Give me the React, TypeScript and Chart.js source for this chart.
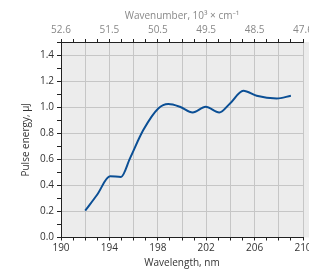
import React, { useEffect, useRef } from "react";
import { Chart, registerables } from "chart.js";

Chart.register(...registerables);

const wavelengths = [192.0, 193.0, 194.05, 194.96, 195.7, 196.8, 198.04, 198.87, 199.83, 200.88, 201.96, 203.08, 203.97, 205.07, 206.17, 207.83, 209.0];
const pulseEnergy = [0.206, 0.33, 0.47, 0.465, 0.607, 0.824, 0.99, 1.024, 1.003, 0.96, 1.003, 0.96, 1.029, 1.126, 1.087, 1.067, 1.087];
const xMin = 190;
const xMax = 210;
const yMin = 0;
const yMax = 1.5;

const FONT = "'Open Sans', 'Noto Sans', sans-serif";

export default function App() {
  const ref = useRef<HTMLCanvasElement | null>(null);

  useEffect(() => {
    document.body.style.margin = "0";
    document.body.style.overflow = "hidden";
    const canvas = ref.current;
    if (!canvas) return;
    const bgPlugin = {
      id: "plotBg",
      beforeDraw(chart: any) {
        const { ctx, chartArea, width } = chart;
        ctx.save();
        ctx.fillStyle = "#ececec";
        ctx.fillRect(chartArea.left, chartArea.top, width - chartArea.left, chartArea.bottom - chartArea.top);
        ctx.restore();
      },
    };
    const chart = new Chart(canvas, {
      type: "line",
      data: {
        datasets: [
          {
            data: wavelengths.map((w, i) => ({ x: w, y: pulseEnergy[i] })),
            borderColor: "#0b4f95",
            borderWidth: 2,
            pointRadius: 0,
            tension: 0.4,
            cubicInterpolationMode: "monotone",
            fill: false,
          },
        ],
      },
      options: {
        animation: false,
        responsive: false,
        layout: { padding: { left: 0, top: 0, bottom: 0, right: 17 } },
        plugins: { legend: { display: false }, tooltip: { enabled: false } },
        scales: {
          x: {
            type: "linear",
            position: "bottom",
            min: xMin,
            max: xMax,
            afterFit(scale: any) {
              scale.height = 33.5;
            },
            ticks: {
              stepSize: 1,
              autoSkip: false,
              maxRotation: 0,
              padding: 2,
              color: "#333",
              font: { family: FONT, size: 10 },
              callback: (v: any) => ((Number(v) - 190) % 4 === 0 ? String(v) : ""),
            },
            grid: {
              color: (c: any) => (c.tick && c.tick.value % 2 === 0 ? "#c6c6c6" : "rgba(0,0,0,0)"),
              tickColor: "#222",
              tickLength: 3,
              lineWidth: 1,
            },
            border: { color: "#222", width: 1 },
            title: {
              display: true,
              text: "Wavelength, nm",
              color: "#333",
              font: { family: FONT, size: 10 },
              padding: { top: 0, bottom: 2 },
            },
          },
          x2: {
            type: "linear",
            position: "top",
            min: xMin,
            max: xMax,
            afterFit(scale: any) {
              scale.height = 42;
            },
            ticks: {
              stepSize: 1,
              autoSkip: false,
              maxRotation: 0,
              padding: 3,
              color: "#888",
              font: { family: FONT, size: 10 },
              callback: (v: any) => ((Number(v) - 190) % 4 === 0 ? (1e4 / Number(v)).toFixed(1) : ""),
            },
            grid: { drawOnChartArea: false, tickColor: "#222", tickLength: 3 },
            border: { color: "#222", width: 1 },
            title: {
              display: true,
              text: "Wavenumber, 10³ × cm⁻¹",
              color: "#888",
              font: { family: FONT, size: 10 },
              padding: { top: 10, bottom: 0 },
            },
          },
          y: {
            min: yMin,
            max: yMax,
            afterFit(scale: any) {
              scale.width = 61;
            },
            ticks: {
              stepSize: 0.1,
              autoSkip: false,
              padding: 3,
              color: "#333",
              font: { family: FONT, size: 10 },
              callback: (v: any) => {
                const k = Math.round(Number(v) * 10);
                return k % 2 === 0 && k <= 14 ? (k / 10).toFixed(1) : "";
              },
            },
            grid: {
              color: (c: any) => {
                const k = Math.round(c.tick ? c.tick.value * 10 : 1);
                return k % 2 === 0 && k > 0 ? "#c6c6c6" : "rgba(0,0,0,0)";
              },
              tickColor: "#222",
              tickLength: 4,
            },
            border: { color: "#222", width: 1 },
            title: {
              display: true,
              text: "Pulse energy, µJ",
              color: "#333",
              font: { family: FONT, size: 10 },
              padding: { top: 20, bottom: 0 },
            },
          },
        },
      },
      plugins: [bgPlugin],
    } as any);
    return () => chart.destroy();
  }, []);

  return (
    <div style={{ position: "fixed", left: 0, top: 0, width: 309, height: 271, overflow: "hidden" }}>
      <canvas ref={ref} width={320} height={271} style={{ width: 320, height: 271, display: "block" }} />
    </div>
  );
}
